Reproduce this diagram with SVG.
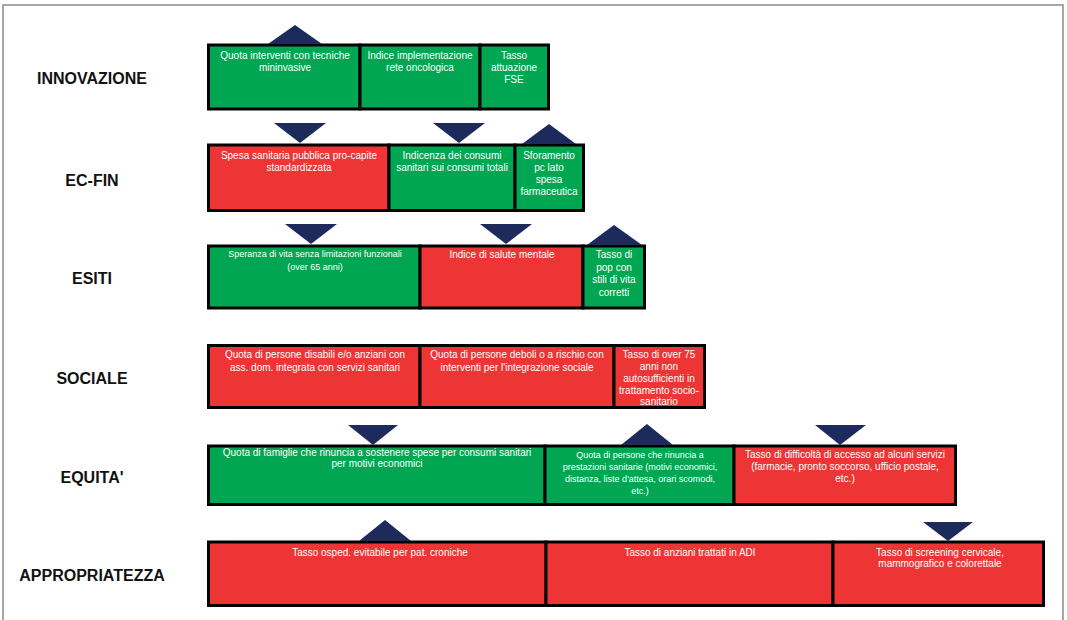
<svg xmlns="http://www.w3.org/2000/svg" width="1067" height="620" viewBox="0 0 1067 620">
<style>
.frame{fill:none;stroke:#8a8a8a;stroke-width:1.5}
.g{fill:#00a651;stroke:#000;stroke-width:3}
.r{fill:#ee3535;stroke:#000;stroke-width:3}
.tri{fill:#1d2b5c}
.lbl{font-family:"Liberation Sans",Arial,sans-serif;font-weight:bold;font-size:16px;fill:#111;text-anchor:middle}
.t{font-family:"Liberation Sans",Arial,sans-serif;font-size:10px;fill:#fff;text-anchor:middle}
.s{font-size:9px}
</style>
<rect width="1067" height="620" fill="#fff"/>
<path class="frame" d="M3,621 V5 H1063 V621"/>

<g id="labels">
<text class="lbl" x="92" y="84">INNOVAZIONE</text>
<text class="lbl" x="92" y="186">EC-FIN</text>
<text class="lbl" x="92" y="284">ESITI</text>
<text class="lbl" x="92" y="384">SOCIALE</text>
<text class="lbl" x="92" y="483">EQUITA'</text>
<text class="lbl" x="92" y="581">APPROPRIATEZZA</text>
</g>

<g id="row-innovazione">
<g id="inn-1"><rect class="g" x="208.5" y="45" width="151.5" height="64"/>
<text class="t" x="285" y="58.5">Quota interventi con tecniche</text><text class="t" x="285" y="70.5">mininvasive</text></g>
<g id="inn-2"><rect class="g" x="360" y="45" width="120" height="64"/>
<text class="t" x="420" y="58.5">Indice implementazione</text><text class="t" x="420" y="70.5">rete oncologica</text></g>
<g id="inn-3"><rect class="g" x="480" y="45" width="68.5" height="64"/>
<text class="t" x="514" y="58.5">Tasso</text><text class="t" x="514" y="70.5">attuazione</text><text class="t" x="514" y="82.5">FSE</text></g>
</g>

<g id="row-ecfin">
<g id="ecf-1"><rect class="r" x="208.5" y="145" width="180.5" height="65.5"/>
<text class="t" x="299" y="158.5">Spesa sanitaria pubblica pro-capite</text><text class="t" x="299" y="170.5">standardizzata</text></g>
<g id="ecf-2"><rect class="g" x="389" y="145" width="126" height="65.5"/>
<text class="t" x="452" y="158.5">Indicenza dei consumi</text><text class="t" x="452" y="170.5">sanitari sui consumi totali</text></g>
<g id="ecf-3"><rect class="g" x="515" y="145" width="68.5" height="65.5"/>
<text class="t" x="549" y="158.5">Sforamento</text><text class="t" x="549" y="170.5">pc lato</text><text class="t" x="549" y="182.5">spesa</text><text class="t" x="549" y="194.5">farmaceutica</text></g>
</g>

<g id="row-esiti">
<g id="esi-1"><rect class="g" x="208.5" y="246" width="211.5" height="62"/>
<text class="t s" x="315" y="257">Speranza di vita senza limitazioni funzionali</text><text class="t s" x="315" y="270">(over 65 anni)</text></g>
<g id="esi-2"><rect class="r" x="420" y="246" width="163" height="62"/>
<text class="t" x="502" y="257.5">Indice di salute mentale</text></g>
<g id="esi-3"><rect class="g" x="583" y="246" width="61.5" height="62"/>
<text class="t" x="614" y="257.5">Tasso di</text><text class="t" x="614" y="270.5">pop con</text><text class="t" x="614" y="283">stili di vita</text><text class="t" x="614" y="295.5">corretti</text></g>
</g>

<g id="row-sociale">
<g id="soc-1"><rect class="r" x="208.5" y="345.5" width="211.5" height="62"/>
<text class="t" x="315" y="357.5">Quota di persone disabili e/o anziani con</text><text class="t" x="315" y="370.5">ass. dom. integrata con servizi sanitari</text></g>
<g id="soc-2"><rect class="r" x="420" y="345.5" width="194" height="62"/>
<text class="t" x="517" y="357.5">Quota di persone deboli o a rischio con</text><text class="t" x="517" y="370.5">interventi per l'integrazione sociale</text></g>
<g id="soc-3"><rect class="r" x="614" y="345.5" width="90.5" height="62"/>
<text class="t" x="659" y="357.5">Tasso di over 75</text><text class="t" x="659" y="370">anni non</text><text class="t" x="659" y="381.5">autosufficienti in</text><text class="t" x="659" y="393.5">trattamento socio-</text><text class="t" x="659" y="405">sanitario</text></g>
</g>

<g id="row-equita">
<g id="equ-1"><rect class="g" x="208.5" y="446" width="336.5" height="58.5"/>
<text class="t" x="377" y="455.5">Quota di famiglie che rinuncia a sostenere spese per consumi sanitari</text><text class="t" x="377" y="467">per motivi economici</text></g>
<g id="equ-2"><rect class="g" x="545" y="446" width="189" height="58.5"/>
<text class="t s" x="640" y="458">Quota di persone che rinuncia a</text><text class="t s" x="640" y="470">prestazioni sanitarie (motivi economici,</text><text class="t s" x="640" y="482">distanza, liste d'attesa, orari scomodi,</text><text class="t s" x="640" y="494">etc.)</text></g>
<g id="equ-3"><rect class="r" x="734" y="446" width="221.5" height="58.5"/>
<text class="t" x="845" y="458">Tasso di difficoltà di accesso ad alcuni servizi</text><text class="t" x="845" y="470">(farmacie, pronto soccorso, ufficio postale,</text><text class="t" x="845" y="482">etc.)</text></g>
</g>

<g id="row-appropriatezza">
<g id="app-1"><rect class="r" x="208.5" y="542" width="337.5" height="63.5"/>
<text class="t" x="380" y="555.5">Tasso osped. evitabile per pat. croniche</text></g>
<g id="app-2"><rect class="r" x="546" y="542" width="287" height="63.5"/>
<text class="t" x="690" y="555.5">Tasso di anziani trattati in ADI</text></g>
<g id="app-3"><rect class="r" x="833" y="542" width="210.5" height="63.5"/>
<text class="t" x="940" y="555.5">Tasso di screening cervicale,</text><text class="t" x="940" y="567">mammografico e colorettale</text></g>
</g>

<g id="indicators">
<polygon class="tri" points="268,44 322,44 295,25"/>
<polygon class="tri" points="274,123 326,123 300,143"/>
<polygon class="tri" points="433,123 485,123 459,143"/>
<polygon class="tri" points="522,144 576,144 549,124"/>
<polygon class="tri" points="285,224 337,224 311,244"/>
<polygon class="tri" points="480,224 532,224 506,244"/>
<polygon class="tri" points="587,245 642,245 614,225"/>
<polygon class="tri" points="348,425 398,425 373,445"/>
<polygon class="tri" points="621,445 673,445 647,424"/>
<polygon class="tri" points="815,425 866,425 840,445"/>
<polygon class="tri" points="359,541 411,541 385,520"/>
<polygon class="tri" points="923,522 973,522 948,541"/>
</g>
</svg>
